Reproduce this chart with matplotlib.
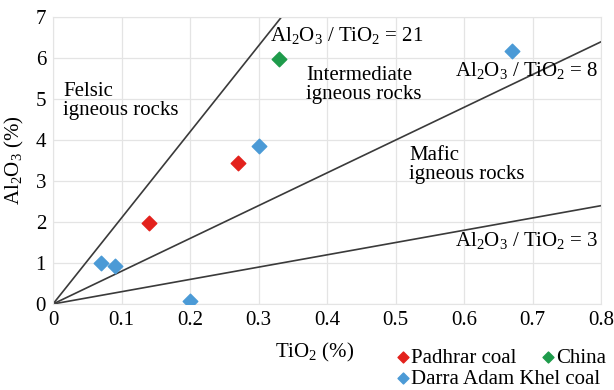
import numpy as np
import matplotlib
matplotlib.use("Agg")
from matplotlib import pyplot as plt

plt.rcParams['font.family'] = ['Liberation Serif', 'DejaVu Serif']
plt.rcParams['mathtext.fontset'] = 'custom'
plt.rcParams['mathtext.rm'] = 'Liberation Serif'
plt.rcParams['mathtext.default'] = 'regular'

# samples (TiO2 %, Al2O3 %)
padhrar_tio2 = [0.14, 0.27]
padhrar_al2o3 = [1.98, 3.45]
china_tio2 = [0.33]
china_al2o3 = [5.97]
darra_tio2 = [0.07, 0.09, 0.20, 0.30, 0.67]
darra_al2o3 = [1.00, 0.92, 0.08, 3.86, 6.18]

# Al2O3/TiO2 boundary ratios
ratios = [21, 8, 3]
ratio_labels = ['21', '8', '3']
ratio_label_xy = [(0.317, 6.56), (0.587, 5.70), (0.587, 1.56)]

xmax, ymax = 0.8, 7
fs = 15

fig = plt.figure(figsize=(6.14, 3.9), dpi=100)
ax = fig.add_axes([0.0863, 0.2205, 0.8927, 0.7355])

# boundary lines through the origin
for r in ratios:
    xe = min(xmax, ymax / r)
    ax.plot([0, xe], [0, r * xe], color='#3a3a3a', lw=1.2, zorder=2)

for r, lab, (tx, ty) in zip(ratios, ratio_labels, ratio_label_xy):
    ax.text(tx, ty, r'Al$_2$O$_3$ / TiO$_2$ = ' + lab, fontsize=fs,
            va='center', ha='left', zorder=3)

ax.text(0.015, 4.95, 'Felsic\nigneous rocks', fontsize=fs, va='center',
        linespacing=1.0)
ax.text(0.37, 5.34, 'Intermediate\nigneous rocks', fontsize=fs, va='center',
        linespacing=1.0)
ax.text(0.52, 3.39, 'Mafic\nigneous rocks', fontsize=fs, va='center',
        linespacing=1.0)

p1 = ax.scatter(padhrar_tio2, padhrar_al2o3, marker='D', s=55,
                color='#e3211c', zorder=4, label='Padhrar coal')
p2 = ax.scatter(china_tio2, china_al2o3, marker='D', s=55,
                color='#1e9b4b', zorder=4, label='China')
p3 = ax.scatter(darra_tio2, darra_al2o3, marker='D', s=55,
                color='#4b9ad6', zorder=4, label='Darra Adam Khel coal')

ax.set_xlim(0, xmax)
ax.set_ylim(0, ymax)
ax.set_xticks(np.arange(0, 0.81, 0.1))
ax.set_xticklabels(['0', '0.1', '0.2', '0.3', '0.4', '0.5', '0.6', '0.7', '0.8'])
ax.set_yticks(range(0, 8))
ax.tick_params(labelsize=fs, length=0, pad=5)
ax.grid(True, color='#e4e4e4', lw=0.9)
ax.set_axisbelow(True)
for s in ax.spines.values():
    s.set_color('#e4e4e4')

ax.set_xlabel(r'TiO$_2$ (%)', fontsize=fs)
ax.xaxis.set_label_coords(0.478, -0.13)
ax.set_ylabel(r'Al$_2$O$_3$ (%)', fontsize=fs)
ax.yaxis.set_label_coords(-0.05, 0.5)

# legend in two rows, both starting at the same left edge
leg_kw = dict(frameon=False, fontsize=fs, handletextpad=0.0,
              columnspacing=1.1, borderpad=0.0, borderaxespad=0.0,
              handlelength=0.8, markerscale=0.75, loc='center left')
fig.legend(handles=[p1, p2], ncol=2, bbox_to_anchor=(0.643, 0.082), **leg_kw)
fig.legend(handles=[p3], ncol=1, bbox_to_anchor=(0.643, 0.028), **leg_kw)

fig.savefig('out.png', dpi=100)
